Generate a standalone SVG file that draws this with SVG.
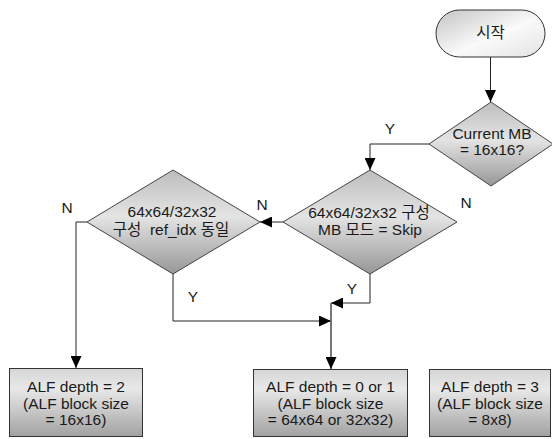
<svg xmlns="http://www.w3.org/2000/svg" width="552" height="439" viewBox="0 0 552 439">
  <style>
    text { font-family: "Liberation Sans", "Noto Sans CJK KR", sans-serif; font-size: 15.5px; fill: #1a1a1a; text-anchor: middle; }
    .lbl { font-size: 15.5px; }
    .box { fill: url(#gBox); stroke: #333; stroke-width: 1; }
    .dia { fill: url(#gDia); stroke: #444; stroke-width: 1; }
    .term { fill: url(#gTerm); stroke: #333; stroke-width: 1; }
    .conn { fill: none; stroke: #222; stroke-width: 1; marker-end: url(#arrow); }
    .conn2 { fill: none; stroke: #555; stroke-width: 1.6; marker-end: url(#arrow); }
    .pre { white-space: pre; }
  </style>
  <defs>
    <linearGradient id="gBox" x1="0" y1="0" x2="0" y2="1">
      <stop offset="0" stop-color="#d6d6d6"/>
      <stop offset="0.3" stop-color="#e8e8e8"/>
      <stop offset="1" stop-color="#a2a2a2"/>
    </linearGradient>
    <linearGradient id="gDia" x1="0" y1="0" x2="0" y2="1">
      <stop offset="0" stop-color="#bdbdbd"/>
      <stop offset="0.45" stop-color="#e4e4e4"/>
      <stop offset="1" stop-color="#979797"/>
    </linearGradient>
    <linearGradient id="gTerm" x1="0" y1="0" x2="1" y2="1">
      <stop offset="0" stop-color="#c4c4c4"/>
      <stop offset="0.55" stop-color="#fafafa"/>
      <stop offset="1" stop-color="#e2e2e2"/>
    </linearGradient>
    <marker id="arrow" markerUnits="userSpaceOnUse" markerWidth="12" markerHeight="11" refX="12" refY="5.5" orient="auto">
      <path d="M0,0 L12,5.5 L0,11 Z" fill="#000"/>
    </marker>
  </defs>

  <!-- connectors -->
  <g id="connectors">
    <path class="conn" d="M490.5,57 V102"/>
    <path class="conn" d="M429,144 H370 V170"/>
    <path class="conn" d="M283,222 H260"/>
    <path class="conn" d="M87,222 H76 V368"/>
    <path class="conn" d="M173,274 V321 H331"/>
    <path class="conn" d="M370,274 V303 H331"/>
    <path class="conn2" d="M331,303 V369"/>
    <text class="lbl" x="390" y="134">Y</text>
    <text class="lbl" x="262" y="210">N</text>
    <text class="lbl" x="466" y="208">N</text>
    <text class="lbl" x="67" y="213">N</text>
    <text class="lbl" x="193" y="302">Y</text>
    <text class="lbl" x="352" y="294">Y</text>
  </g>

  <!-- start -->
  <g id="start">
    <rect class="term" x="436" y="10" width="109" height="47" rx="23.5" ry="23.5"/>
    <text x="490.5" y="38">시작</text>
  </g>

  <!-- decision: current MB size -->
  <g id="dec-mb">
    <polygon class="dia" points="491,102 553,144 491,186 429,144"/>
    <text x="492" y="139">Current MB</text>
    <text x="492" y="155">= 16x16?</text>
  </g>

  <!-- decision: skip mode -->
  <g id="dec-skip">
    <polygon class="dia" points="370,170 457,222 370,274 283,222"/>
    <text x="369" y="218">64x64/32x32 구성</text>
    <text x="370" y="235">MB 모드 = Skip</text>
  </g>

  <!-- decision: same ref_idx -->
  <g id="dec-ref">
    <polygon class="dia" points="173,170 260,222 173,274 87,222"/>
    <text x="172" y="217">64x64/32x32</text>
    <text class="pre" x="171" y="235">구성  ref_idx 동일</text>
  </g>

  <!-- result boxes -->
  <g id="box-depth2">
    <rect class="box" x="9.5" y="368.5" width="133" height="68"/>
    <text x="76" y="392">ALF depth = 2</text>
    <text x="76" y="408.5">(ALF block size</text>
    <text x="76" y="425">= 16x16)</text>
  </g>
  <g id="box-depth01">
    <rect class="box" x="253.5" y="369.5" width="154" height="67"/>
    <text x="330.5" y="392">ALF depth = 0 or 1</text>
    <text x="330.5" y="408.5">(ALF block size</text>
    <text x="330.5" y="425">= 64x64 or 32x32)</text>
  </g>
  <g id="box-depth3">
    <rect class="box" x="429.5" y="369.5" width="121" height="67"/>
    <text x="490" y="392">ALF depth = 3</text>
    <text x="490" y="408.5">(ALF block size</text>
    <text x="490" y="425">= 8x8)</text>
  </g>
</svg>
